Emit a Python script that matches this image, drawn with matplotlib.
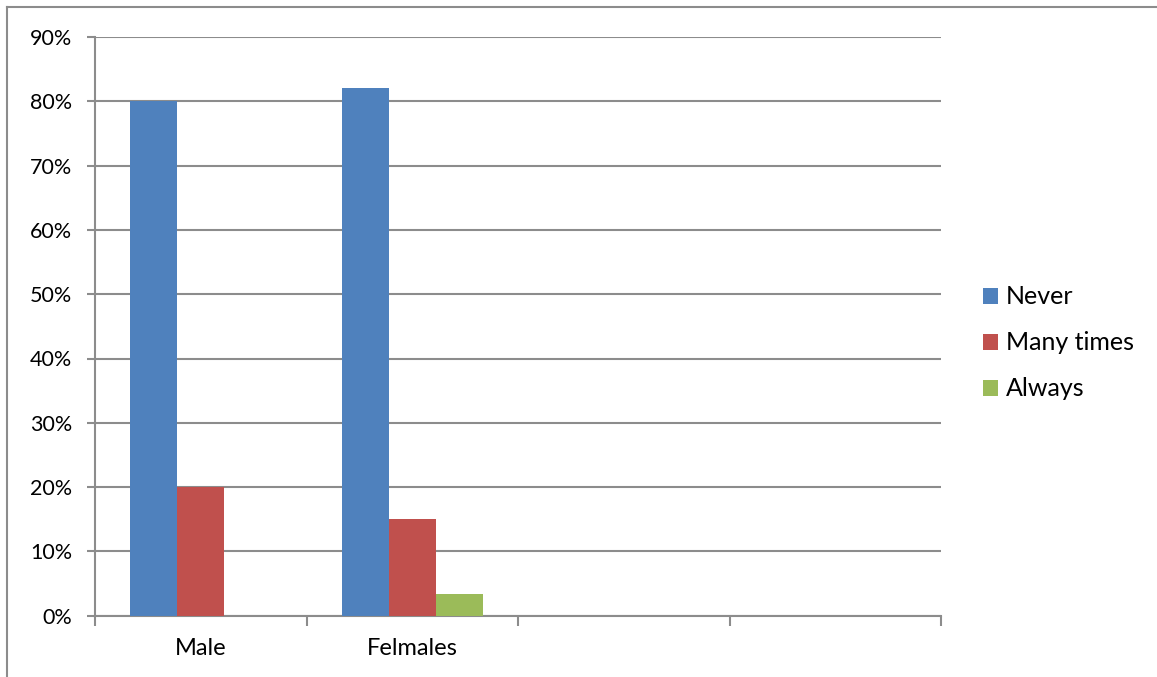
import matplotlib
matplotlib.use("Agg")
import matplotlib.pyplot as plt
from matplotlib.lines import Line2D
from matplotlib.patches import Patch
import numpy as np

# Data
categories = ["Male", "Felmales", "", ""]
series_names = ["Never", "Many times", "Always"]
never = [80, 82, 0, 0]
many_times = [20, 15, 0, 0]
always = [0, 3.3, 0, 0]
y_ticks = [0, 10, 20, 30, 40, 50, 60, 70, 80, 90]

colors = ["#4F81BD", "#C0504D", "#9BBB59"]
grid_grey = "#8C8C8C"

plt.rcParams["font.family"] = ["Lato", "DejaVu Sans"]
FS_LEGEND = 18
FS_X = 17
FS_Y = 15.5

W, H = 1157, 677
fig = plt.figure(figsize=(W / 100, H / 100), dpi=100)
fig.patch.set_facecolor("white")

# Outer chart border (only top and left edges are within the frame)
fig.add_artist(Line2D([7 / W, 7 / W], [0, 1 - 7 / H], transform=fig.transFigure,
                      color=grid_grey, lw=1.5))
fig.add_artist(Line2D([7 / W, 1], [1 - 7 / H, 1 - 7 / H], transform=fig.transFigure,
                      color=grid_grey, lw=1.5))

left, right = 95 / W, 941 / W
bottom, top = 1 - 615.7 / H, 1 - 37 / H
ax = fig.add_axes([left, bottom, right - left, top - bottom])

x = np.arange(len(categories))
w = 1 / 4.5
for i, (vals, name) in enumerate(zip([never, many_times, always], series_names)):
    ax.bar(x + (i - 1) * w, vals, width=w, color=colors[i], label=name, zorder=3)

ax.set_xlim(-0.5, len(categories) - 0.5)
ax.set_ylim(0, 90)

ax.set_yticks(y_ticks)
ax.set_yticklabels([f"{t}%" for t in y_ticks])
ax.yaxis.grid(True, color=grid_grey, lw=1.5, zorder=0)
ax.set_axisbelow(True)

ax.set_xticks(x)
ax.set_xticklabels(categories)
ax.set_xticks(np.arange(-0.5, len(categories)), minor=True)
ax.tick_params(axis="x", which="major", length=0, pad=16, labelsize=FS_X)
ax.tick_params(axis="x", which="minor", length=7, width=1.5, color=grid_grey, direction="out")
ax.tick_params(axis="y", which="major", length=6, width=1.5, color=grid_grey,
               direction="out", pad=10.5, labelsize=FS_Y)

for s in ["top", "right"]:
    ax.spines[s].set_visible(False)
for s in ["left", "bottom"]:
    ax.spines[s].set_color(grid_grey)
    ax.spines[s].set_linewidth(1.5)

handles = [Patch(facecolor=c, edgecolor="none") for c in colors]
fig.legend(handles, series_names, loc="center left",
           bbox_to_anchor=(983 / W, 1 - 343 / H), frameon=False, fontsize=FS_LEGEND,
           handlelength=0.6, handleheight=0.6, handletextpad=0.3,
           labelspacing=0.92, borderaxespad=0, borderpad=0)

fig.savefig("out.png", dpi=100, facecolor="white")
